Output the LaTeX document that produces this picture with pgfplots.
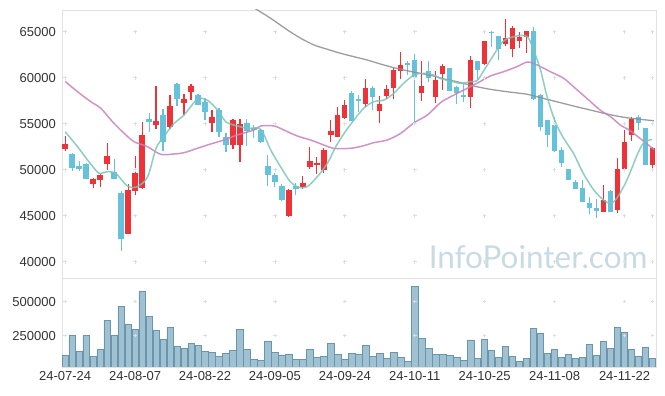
\documentclass[border=0pt]{standalone}
\usepackage{pgfplots}
\pgfplotsset{compat=1.18}
\usepackage{pgfplotstable}
\usepackage{fontspec}
\setmainfont{Liberation Sans}
\newfontfamily\wmfont{Lato}
\definecolor{cred}{RGB}{238,51,56}
\definecolor{cblue}{RGB}{102,193,218}
\definecolor{mateal}{RGB}{122,196,184}
\definecolor{mapink}{RGB}{200,128,190}
\definecolor{magray}{RGB}{140,140,140}
\definecolor{volfill}{RGB}{155,190,207}
\definecolor{voledge}{RGB}{105,150,172}
\definecolor{axgray}{RGB}{225,225,225}
\definecolor{crossgray}{RGB}{222,222,222}
\definecolor{labgray}{RGB}{51,51,51}
\definecolor{wmcolor}{RGB}{200,218,228}

\pgfplotstableread{
i o h l c
0 52294 53706 52004 52801
4 48493 49108 48058 48963
5 48927 49506 48094 49362
6 50592 52873 49977 51497
9 43063 48420 43000 47769
10 47733 51534 47226 49651
11 47986 55226 47900 53778
13 54864 59063 54393 55299
15 54683 58086 54429 56928
17 57253 58195 55914 57688
18 58484 59280 57615 59100
21 55118 56493 54140 55697
24 52728 55552 52222 55407
25 52728 55516 50882 54936
32 44945 47950 44909 47769
34 48094 49325 47914 48529
35 50339 52475 50122 50954
36 50520 51425 49543 50737
37 49977 52330 49615 52149
38 53814 55407 52982 54213
39 53597 56783 53525 55950
40 55660 57579 55516 57000
43 57181 59824 56855 58846
45 56421 58014 55045 57145
46 58050 59244 57688 58737
47 58918 61090 57651 60837
48 60692 62756 59824 61308
51 58376 61814 57507 59100
53 57941 60728 57217 59751
54 60439 61489 58629 61272
58 57941 62357 56746 61923
60 61489 64023 61380 63987
63 63661 66339 63443 64312
64 63081 65652 62213 65398
65 64023 65000 63190 64385
66 64385 65100 62720 65036
77 45452 48348 45452 46719
79 45669 51317 45271 50086
80 50122 54321 50122 53018
81 53814 55769 53162 55516
84 50484 52511 49977 52366
}\up

\pgfplotstableread{
i o h l c
1 51715 51787 49905 50230
2 50411 50991 49905 50122
3 50629 50773 49036 49036
7 49724 51137 48963 49036
8 47479 47660 41217 42520
12 55516 56203 54068 55226
14 55950 56602 52077 53054
16 59317 59425 56964 57724
19 58086 58195 57000 57072
20 57362 57760 55407 56312
22 56493 56674 53597 54140
23 53561 54031 51968 52728
26 55045 55552 52620 54249
27 54466 54828 53416 54357
28 54321 54429 52945 53054
29 50411 51570 48203 49398
30 49434 49615 48094 48674
31 48239 48456 46647 46719
33 48239 48601 47226 47950
41 58339 58592 55298 55334
42 57615 58158 56312 57507
44 58846 59063 56493 57941
49 61597 61814 60294 61416
50 61923 62575 55081 60041
52 60728 61814 59570 60004
55 61054 61100 58550 58593
56 58955 59100 57181 58376
57 58122 59317 57326 57941
59 61778 61851 59787 60837
61 64892 65036 63371 64819
62 64529 64560 61923 63154
67 65036 65471 57600 57651
68 58100 58200 54206 54683
69 55371 55400 52438 53778
70 54864 55695 51900 52077
71 52149 52511 50339 50773
72 50086 50100 48900 48927
73 48674 48891 47950 47950
74 48022 48891 46538 46538
75 46357 47081 45198 45850
76 45850 46791 44727 45561
78 47624 47805 45452 45452
82 55697 55914 54285 55045
83 54538 54538 50484 50484
}\down

\pgfplotstableread{
x y
0 54130
1.77 52500
3.2 51054
4 50300
4.86 49608
6.05 49782
7.24 49608
8.9 48227
10.3 48151
11.8 49238
13.0 52325
14.1 53587
15.6 55043
17 55945
18.9 57652
20.3 57576
21.8 56489
22.96 55217
24.1 54859
26.06 54500
27.96 54390
29.4 52141
30.8 50326
32.2 48696
33.4 48087
34.6 48151
36.06 49238
37.5 50695
38.7 52500
39.9 53956
41.3 55402
42.7 56673
44.1 57391
45.6 57576
47 58304
48.4 59391
49.9 60293
51.3 60478
52.7 60293
53.7 59900
55.1 59650
56.5 59391
57.9 59565
58.9 59674
59.9 60800
61.3 62500
62.7 64000
64.6 64533
66.1 64457
67 63011
68 60800
68.9 58000
70.1 55200
71.3 53400
72.7 51782
74.1 49608
75.6 47792
77 46705
78 46346
78.9 46900
80.3 48800
81.8 51598
82.7 52870
83.9 53304
}\mafive

\pgfplotstableread{
x y
0 59600
1.77 58478
3.67 57391
5.1 56673
6.77 55217
8.43 53956
9.86 53043
11.77 52500
13.67 51673
15.57 51710
17 51847
18.9 52325
20.8 52793
22.7 53228
24.6 53771
27 54315
27.96 54750
29.9 54750
31.8 54130
33.2 53663
35.1 53228
37 52684
38.4 52325
40.8 52325
42.7 52608
44.1 52934
46.06 53228
48 53956
49.9 55108
51.8 55945
53.7 57300
55.6 58119
57.5 58845
58.9 59391
60.8 60185
62.7 60652
64.6 61196
66.1 61706
67.5 61380
69.4 60652
71.3 59934
72.7 59022
74.6 57761
76.5 56489
78 55760
79.4 54859
80.8 54239
82.2 53413
83.7 52500
84.2 52217
}\matwenty

\pgfplotstableread{
x y
26 68070
27.5 67359
29.4 66456
31.8 65185
33.7 64283
35.6 63554
37.5 63087
39.4 62652
41.3 62283
43.2 61924
45.1 61489
47 61087
48.9 60761
50.8 60478
52.7 60185
54.5 59800
56.06 59565
58.4 59098
60.8 58739
63.2 58478
66.1 58195
68 57826
70.3 57391
72.7 56924
75.1 56489
77.5 56054
79.9 55696
82.2 55478
84.2 55326
}\masixty

\pgfplotstableread{
i v
0 105400
1 252450
2 137250
3 252450
4 98000
5 149500
6 362750
7 252450
8 465700
9 333300
10 296600
11 576000
12 392150
13 289200
14 223000
15 311300
16 171600
17 159300
18 193600
19 178900
20 137250
21 130000
22 98000
23 122500
24 144600
25 296600
26 149500
27 76000
28 68600
29 210800
30 127500
31 105400
32 112750
33 76000
34 76000
35 149500
36 90700
37 98000
38 193600
39 112750
40 76000
41 120100
42 112750
43 178900
44 98000
45 120100
46 83400
47 127500
48 90700
49 61300
50 612750
51 230400
52 156900
53 112750
54 112750
55 105400
56 90700
57 68600
58 215700
59 83400
60 223000
61 142150
62 90700
63 171600
64 98000
65 61300
66 83400
67 303900
68 267150
69 120100
70 149500
71 90700
72 112750
73 83400
74 90700
75 186300
76 105400
77 208300
78 156900
79 311300
80 274500
81 149500
82 98000
83 164200
84 83400
}\vol

\pgfplotsset{
  chartbase/.style={
    scale only axis,
    width=594pt,
    xmin=-0.45, xmax=84.5,
    axis line style={draw=axgray, line width=0.8pt},
    major tick length=0pt,
    tick style={draw=none},
    scaled y ticks=false,
    ticklabel style={font=\fontsize{13}{15}\selectfont, text=labgray},
    yticklabel style={inner sep=0pt, xshift=-6pt, /pgf/number format/.cd, fixed, 1000 sep={}, assume math mode=true},
    clip=true,
  },
  candle/.style={only marks, mark=*, mark size=0pt, mark options={draw=none, fill=none}, forget plot,
    error bars/.cd, y dir=plus, y explicit, error mark=none},
}

\begin{document}
\begin{tikzpicture}[x=1pt,y=1pt]
\useasboundingbox (0,0) rectangle (665,396);
\begin{axis}[chartbase,
  at={(62pt,118pt)}, anchor=south west,
  height=268pt,
  ymin=38230, ymax=67360,
  ytick={40000,45000,50000,55000,60000,65000},
  xtick=\empty,
]
\node[anchor=south east, inner sep=0pt, text=wmcolor, font=\wmfont\fontsize{31.5}{32}\selectfont] at (rel axis cs:0.986,0.035) {InfoPointer.com};
\addplot[only marks, mark=+, mark size=1.8pt, mark options={draw=crossgray, line width=0.7pt}, forget plot] coordinates {
(0,40000)(10,40000)(20,40000)(30,40000)(40,40000)(50,40000)(60,40000)(70,40000)(80,40000)(84,40000)
(0,45000)(10,45000)(20,45000)(30,45000)(40,45000)(50,45000)(60,45000)(70,45000)(80,45000)(84,45000)
(0,50000)(10,50000)(20,50000)(30,50000)(40,50000)(50,50000)(60,50000)(70,50000)(80,50000)(84,50000)
(0,55000)(10,55000)(20,55000)(30,55000)(40,55000)(50,55000)(60,55000)(70,55000)(80,55000)(84,55000)
(0,60000)(10,60000)(20,60000)(30,60000)(40,60000)(50,60000)(60,60000)(70,60000)(80,60000)(84,60000)
(0,65000)(10,65000)(20,65000)(30,65000)(40,65000)(50,65000)(60,65000)(70,65000)(80,65000)(84,65000)
};
% wicks
\addplot[candle, error bar style={line width=1.1pt, draw=cred}] table[x=i, y=l, y error plus expr={\thisrow{h}-\thisrow{l}}] {\up};
\addplot[candle, error bar style={line width=1.1pt, draw=cblue}] table[x=i, y=l, y error plus expr={\thisrow{h}-\thisrow{l}}] {\down};
% bodies
\addplot[candle, error bar style={line width=5.3pt, draw=cred}] table[x=i, y=o, y error plus expr={\thisrow{c}-\thisrow{o}+40}] {\up};
\addplot[candle, error bar style={line width=5.3pt, draw=cblue}] table[x=i, y=c, y error plus expr={\thisrow{o}-\thisrow{c}+40}] {\down};
% moving averages
\addplot[smooth, no marks, draw=magray, line width=1.3pt, opacity=0.85] table[x=x,y=y] {\masixty};
\addplot[smooth, no marks, draw=mapink, line width=1.5pt, opacity=0.85] table[x=x,y=y] {\matwenty};
\addplot[smooth, no marks, draw=mateal, line width=1.5pt, opacity=0.85] table[x=x,y=y] {\mafive};
\end{axis}

\begin{axis}[chartbase,
  at={(62pt,29pt)}, anchor=south west,
  height=89pt,
  ymin=19850, ymax=674270,
  ytick={250000,500000},
  xtick={0,10,20,30,40,50,60,70,80},
  xticklabels={24-07-24,24-08-07,24-08-22,24-09-05,24-09-24,24-10-11,24-10-25,24-11-08,24-11-22},
  xticklabel style={anchor=north, inner sep=0pt, yshift=-4.5pt},
]
\addplot[only marks, mark=+, mark size=1.8pt, mark options={draw=crossgray, line width=0.7pt}, forget plot] coordinates {
(0,250000)(10,250000)(20,250000)(30,250000)(40,250000)(50,250000)(60,250000)(70,250000)(80,250000)(84,250000)
(0,500000)(10,500000)(20,500000)(30,500000)(40,500000)(50,500000)(60,500000)(70,500000)(80,500000)(84,500000)
};
\addplot[ybar, bar width=6.3pt, bar shift=0pt, fill=volfill, fill opacity=0.95, draw=voledge, line width=0.7pt] table[x=i,y=v] {\vol};
\end{axis}
\end{tikzpicture}
\end{document}
